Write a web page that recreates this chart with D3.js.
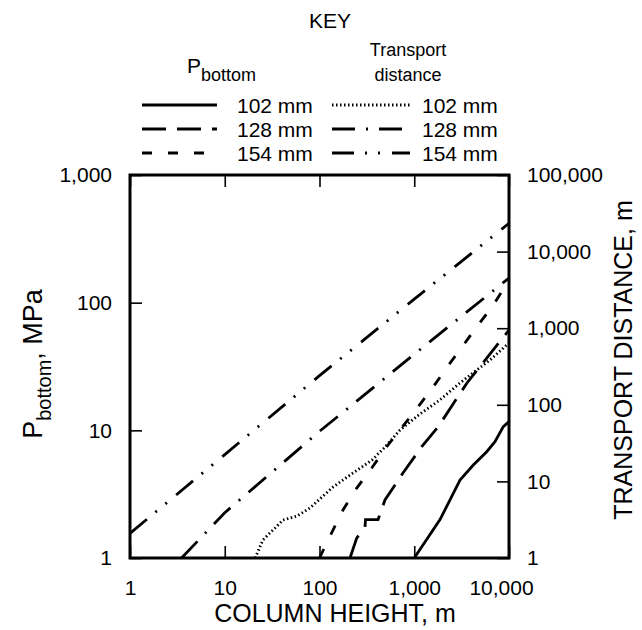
<!DOCTYPE html>
<html>
<head>
<meta charset="utf-8">
<script src="https://cdn.jsdelivr.net/npm/d3@7"></script>
<style>
    body { margin: 0; background: #fff; }
    text { font-family: "Liberation Sans", Arial, sans-serif; fill: #000; }
</style>
</head>
<body>
<svg id="chart_svg"></svg>
<script>
/**
 * Chart values
 */
var xTicks = [1, 10, 100, 1000, 10000];
var leftTicks = [1, 10, 100, 1000];
var rightTicks = [1, 10, 100, 1000, 10000, 100000];

// P bottom, 102 mm (solid)
var p102H = [1000, 1870, 2385, 3040, 4200, 5820, 7110, 8710, 10000];
var p102V = [1, 2, 2.85, 4.08, 5.35, 6.8, 8.14, 10.7, 11.7];
// P bottom, 128 mm (long dash)
var p128H = [210, 247, 302, 306, 415, 491, 760, 1200, 1780, 3600, 10000];
var p128V = [1, 1.43, 1.75, 2, 2, 2.85, 4.63, 7.44, 10.6, 23.5, 61];
// P bottom, 154 mm (short dash)
var p154H = [100, 134, 177, 247, 356, 512, 1100, 1580, 2220, 3190, 4710, 6610, 10000];
var p154V = [1, 1.57, 2.38, 3.53, 5.07, 7.44, 15.3, 21.8, 31.3, 44.9, 66.8, 92.4, 150];
// transport distance, 102 mm (dotted)
var t102H = [20.9, 25.3, 32.3, 41.2, 57.8, 79.4, 139, 226, 358, 491, 708, 1150, 1870, 3040, 4590, 6310, 10000];
var t102V = [1, 1.72, 2.32, 3.13, 3.53, 4.5, 8.45, 12.9, 19, 28.1, 46.9, 75.9, 116, 193, 285, 385, 641];
// transport distance, 128 mm (dash dot)
var t128H = [3.5, 10, 100, 1000, 10000];
var t128V = [1, 3.9, 45, 457, 4520];
// transport distance, 154 mm (dash dot dot)
var t154H = [1, 10, 100, 1000, 10000];
var t154V = [2.1, 22.4, 240, 2400, 23400];

var legendLabels = ["102 mm", "128 mm", "154 mm"];

window.onload = function(){
    drawChart();
};

function zip(hs, vs){
    return hs.map(function(h, i){ return {h: h, v: vs[i]}; });
}

function drawChart(){
    var width = 642, height = 630;
    var plot = {left: 130, right: 509, top: 175, bottom: 558};

    var svg = d3.select("#chart_svg")
        .attr("width", width)
        .attr("height", height);

    var xScale = d3.scaleLog().domain([1, 10000]).range([plot.left, plot.right]);
    var yLeft = d3.scaleLog().domain([1, 1000]).range([plot.bottom, plot.top]);
    var yRight = d3.scaleLog().domain([1, 100000]).range([plot.bottom, plot.top]);
    var fmt = d3.format(",");

    var dashes = {
        solid: null,
        longDash: "24,11",
        shortDash: "10,16",
        dotted: "1.5,2.5",
        dashDot: "23,11,2,11",
        dashDotDot: "22,11,2,11,2,12"
    };

    var series = [
        {data: zip(p102H, p102V), y: yLeft, dash: dashes.solid},
        {data: zip(p128H, p128V), y: yLeft, dash: dashes.longDash},
        {data: zip(p154H, p154V), y: yLeft, dash: dashes.shortDash},
        {data: zip(t102H, t102V), y: yRight, dash: dashes.dotted},
        {data: zip(t128H, t128V), y: yRight, dash: dashes.dashDot},
        {data: zip(t154H, t154V), y: yRight, dash: dashes.dashDotDot}
    ];

    svg.append("clipPath").attr("id", "plot-clip")
        .append("rect")
        .attr("x", plot.left).attr("y", plot.top)
        .attr("width", plot.right - plot.left)
        .attr("height", plot.bottom - plot.top);

    // lines
    var lines = svg.append("g").attr("clip-path", "url(#plot-clip)");
    series.forEach(function(s){
        var line = d3.line()
            .x(function(d){ return xScale(d.h); })
            .y(function(d){ return s.y(d.v); });
        lines.append("path")
            .datum(s.data)
            .attr("d", line)
            .style("fill", "none")
            .style("stroke", "#000")
            .style("stroke-width", 2.8)
            .style("stroke-dasharray", s.dash);
    });

    // axes, all ticks pointing inside
    var tickLen = 12;
    svg.append("g")
        .attr("transform", "translate(0," + plot.bottom + ")")
        .call(d3.axisBottom(xScale).tickValues(xTicks).tickSize(-tickLen).tickPadding(22).tickFormat(fmt))
        .call(styleAxis)
        .selectAll("text")
        .attr("dx", function(d){ return d === 10000 ? -8 : 0; });
    svg.append("g")
        .attr("transform", "translate(0," + plot.top + ")")
        .call(d3.axisTop(xScale).tickValues(xTicks).tickSize(-tickLen).tickFormat(""))
        .call(styleAxis);
    svg.append("g")
        .attr("transform", "translate(" + plot.left + ",0)")
        .call(d3.axisLeft(yLeft).tickValues(leftTicks).tickSize(-tickLen).tickPadding(18).tickFormat(fmt))
        .call(styleAxis);
    svg.append("g")
        .attr("transform", "translate(" + plot.right + ",0)")
        .call(d3.axisRight(yRight).tickValues(rightTicks).tickSize(-tickLen).tickPadding(18).tickFormat(fmt))
        .call(styleAxis);

    // frame
    svg.append("rect")
        .attr("x", plot.left).attr("y", plot.top)
        .attr("width", plot.right - plot.left)
        .attr("height", plot.bottom - plot.top)
        .style("fill", "none")
        .style("stroke", "#000")
        .style("stroke-width", 3);

    // axis titles
    svg.append("text")
        .attr("x", 335).attr("y", 622)
        .attr("text-anchor", "middle")
        .style("font-size", "25px")
        .text("COLUMN HEIGHT, m");

    var lt = svg.append("text")
        .attr("transform", "translate(42,364) rotate(-90)")
        .attr("text-anchor", "middle")
        .style("font-size", "27px");
    lt.append("tspan").text("P");
    lt.append("tspan").attr("dy", 9).style("font-size", "20px").text("bottom");
    lt.append("tspan").attr("dy", -9).text(", MPa");

    svg.append("text")
        .attr("transform", "translate(632,360) rotate(-90)")
        .attr("text-anchor", "middle")
        .style("font-size", "25px")
        .text("TRANSPORT DISTANCE, m");

    // key
    svg.append("text")
        .attr("x", 330).attr("y", 28)
        .attr("text-anchor", "middle")
        .style("font-size", "21px")
        .text("KEY");
    var kp = svg.append("text")
        .attr("x", 187).attr("y", 73)
        .style("font-size", "21px");
    kp.append("tspan").text("P");
    kp.append("tspan").attr("dy", 8).style("font-size", "18px").text("bottom");
    svg.append("text")
        .attr("x", 408).attr("y", 56)
        .attr("text-anchor", "middle")
        .style("font-size", "18px")
        .text("Transport");
    svg.append("text")
        .attr("x", 408).attr("y", 81)
        .attr("text-anchor", "middle")
        .style("font-size", "18px")
        .text("distance");

    var rowY = [105, 129, 153];
    var leftDash = [dashes.solid, dashes.longDash, dashes.shortDash];
    var rightDash = [dashes.dotted, dashes.dashDot, dashes.dashDotDot];
    var key = svg.append("g").attr("class", "key");
    legendLabels.forEach(function(lbl, i){
        [{x0: 142, x1: 217, tx: 237, dash: leftDash[i]},
         {x0: 332, x1: 410, tx: 422, dash: rightDash[i]}].forEach(function(c){
            key.append("line")
                .attr("x1", c.x0).attr("x2", c.x1)
                .attr("y1", rowY[i]).attr("y2", rowY[i])
                .style("stroke", "#000")
                .style("stroke-width", 2.8)
                .style("stroke-dasharray", c.dash);
            key.append("text")
                .attr("x", c.tx).attr("y", rowY[i] + 8)
                .style("font-size", "21px")
                .text(lbl);
        });
    });
}

function styleAxis(g){
    g.select(".domain").remove();
    g.selectAll(".tick line").style("stroke", "#000").style("stroke-width", 1.6);
    g.selectAll(".tick text")
        .style("font-size", "21px")
        .style("font-family", "'Liberation Sans', Arial, sans-serif");
}
</script>
</body>
</html>
